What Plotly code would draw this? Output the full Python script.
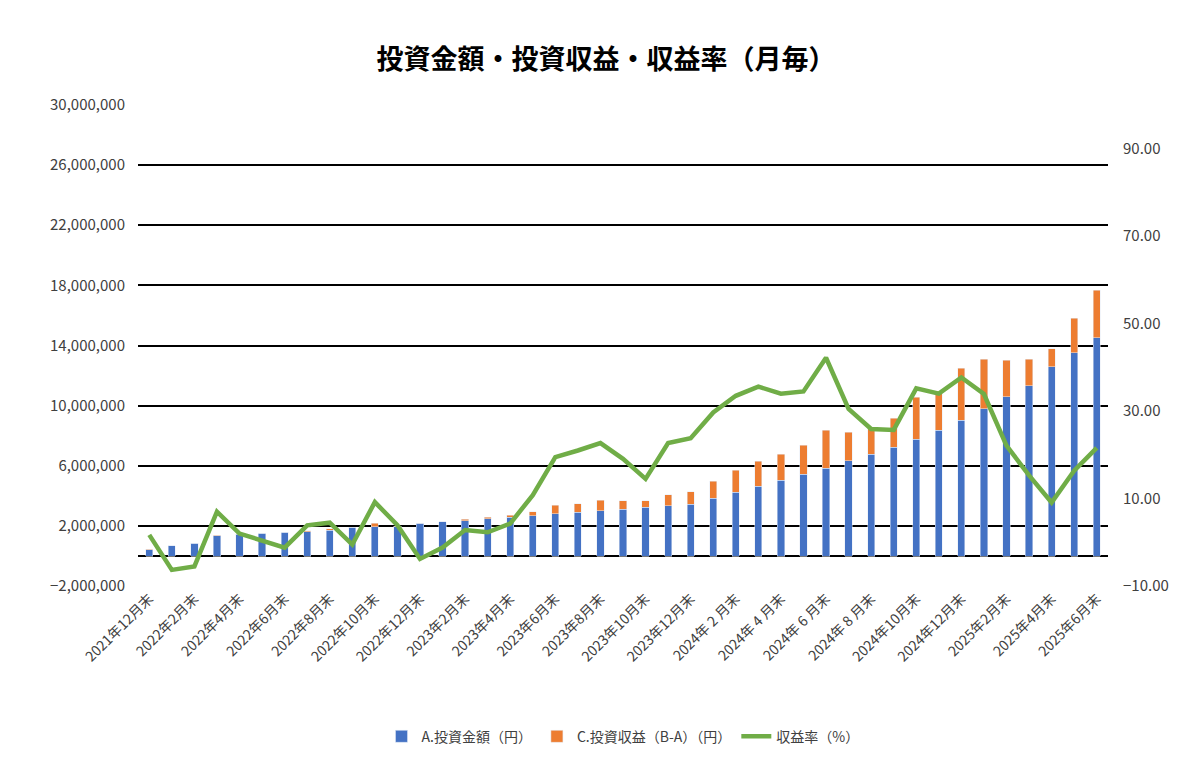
import plotly.graph_objects as go

months = []
for y, m in [(2021, 12)] + [(2022, i) for i in range(1, 13)] + [(2023, i) for i in range(1, 13)] + [(2024, i) for i in range(1, 13)] + [(2025, i) for i in range(1, 7)]:
    if y == 2024 and m < 10:
        months.append(f"{y}年 {m} 月末")
    else:
        months.append(f"{y}年{m}月末")

invest_m = [0.42, 0.69, 0.84, 1.36, 1.44, 1.51, 1.58, 1.62, 1.73, 1.91, 1.96, 1.96, 2.18, 2.29, 2.36,
            2.49, 2.58, 2.67, 2.82, 2.91, 3.02, 3.11, 3.24, 3.33, 3.44, 3.84, 4.24, 4.64, 5.04, 5.44,
            5.84, 6.33, 6.78, 7.22, 7.78, 8.38, 9.02, 9.78, 10.58, 11.33, 12.58, 13.51, 14.51]
total_m = [0.45, 0.69, 0.84, 1.38, 1.47, 1.52, 1.58, 1.69, 1.82, 1.92, 2.18, 1.98, 2.18, 2.29, 2.44,
           2.58, 2.71, 2.96, 3.38, 3.49, 3.71, 3.69, 3.69, 4.09, 4.29, 4.96, 5.69, 6.29, 6.76, 7.36,
           8.36, 8.22, 8.5, 9.16, 10.56, 10.96, 12.49, 13.09, 13.02, 13.09, 13.78, 15.82, 17.69]
rate = [1.7, -6.3, -5.5, 7.0, 2.0, 0.5, -1.2, 3.9, 4.5, -0.5, 9.2, 3.9, -3.8, -1.2, 2.8, 2.3, 4.3,
        10.8, 19.5, 21.0, 22.7, 19.1, 14.5, 22.7, 23.8, 29.7, 33.5, 35.6, 34.0, 34.5, 42.2, 30.5,
        25.9, 25.7, 35.2, 34.0, 37.7, 33.9, 22.1, 15.3, 9.1, 16.4, 21.6]

invest = [v * 1e6 for v in invest_m]
profit = [(t - v) * 1e6 for t, v in zip(total_m, invest_m)]

left_ticks = list(range(-2000000, 30000001, 4000000))
right_ticks = [-10, 10, 30, 50, 70, 90]

fig = go.Figure()
fig.add_trace(go.Bar(x=months, y=invest, name="A.投資金額（円）", marker_color="#4472C4", width=0.32))
fig.add_trace(go.Bar(x=months, y=profit, name="C.投資収益（B-A）（円）", marker_color="#ED7D31", width=0.32))
fig.add_trace(go.Scatter(x=months, y=rate, name="収益率（%）", mode="lines",
                         line=dict(color="#70AD47", width=4.5), yaxis="y2"))

fig.update_layout(
    barmode="stack",
    width=1196, height=761,
    margin=dict(l=130, r=96, t=96, b=182),
    paper_bgcolor="white", plot_bgcolor="white",
    font=dict(family="Noto Sans CJK JP", color="#404040", size=14),
    title=dict(text="<b>投資金額・投資収益・収益率（月毎）</b>", x=0.5, xanchor="center", y=0.945,
               font=dict(size=27, color="black")),
    xaxis=dict(type="category", tickvals=months[::2], ticktext=months[::2], tickangle=-45,
               showgrid=False, tickfont=dict(size=14, color="#404040")),
    yaxis=dict(range=[-2060000, 30060000], tickvals=left_ticks, tickformat=",d",
               showgrid=True, gridcolor="black", gridwidth=2, zeroline=True, zerolinecolor="black",
               zerolinewidth=2, tickfont=dict(size=15, color="#404040"), ticklabelstandoff=12),
    yaxis2=dict(range=[-10.21, 100.21], tickvals=right_ticks, tickformat=".2f", overlaying="y", side="right",
                showgrid=False, zeroline=False, tickfont=dict(size=15, color="#404040"),
                ticklabelstandoff=14),
    legend=dict(orientation="h", x=0.5, xanchor="center", y=-0.31, yanchor="middle",
                traceorder="normal", font=dict(size=14, color="#404040")),
)

fig.write_html("out.html")
